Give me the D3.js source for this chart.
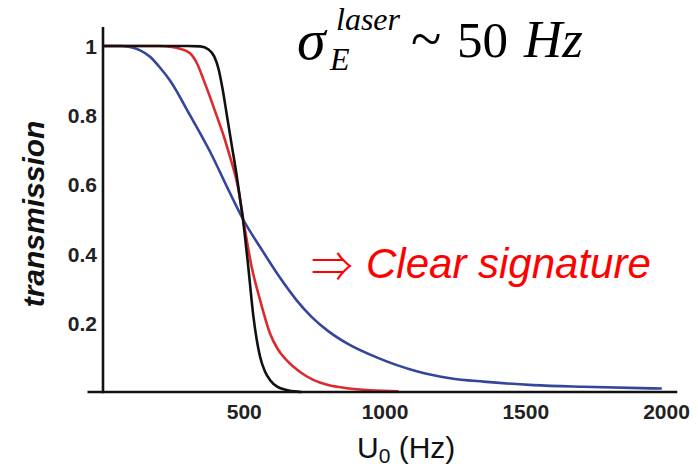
<!DOCTYPE html>
<html>
<head>
<meta charset="utf-8">
<script src="https://cdn.jsdelivr.net/npm/d3@7"></script>
<style>
  html, body { margin: 0; padding: 0; background: #fff; }
  svg { display: block; }
</style>
</head>
<body>
<svg id="chart" width="698" height="468"></svg>
<script>
// Transmission vs. U0 for three laser linewidths (steep, medium, broad)
const uValuesBlack = [0, 300, 345, 375, 395, 410, 425, 440, 457, 475, 490, 497, 505, 516, 534, 558, 575, 593, 620, 652, 690, 705];
const transBlack   = [1, 1, 0.999, 0.99, 0.97, 0.935, 0.875, 0.8, 0.715, 0.625, 0.54, 0.5, 0.445, 0.362, 0.22, 0.102, 0.06, 0.035, 0.015, 0.006, 0.001, 0];

const uValuesRed = [0, 200, 238, 270, 309, 335, 356, 380, 404, 430, 451, 481, 498, 528, 558, 593, 620, 652, 700, 747, 800, 866, 950, 1050];
const transRed   = [1, 1, 0.998, 0.993, 0.979, 0.948, 0.905, 0.853, 0.798, 0.737, 0.68, 0.586, 0.5, 0.362, 0.266, 0.17, 0.125, 0.092, 0.058, 0.035, 0.02, 0.011, 0.005, 0.002];

const uValuesBlue = [0, 60, 96, 130, 167, 200, 238, 309, 380, 451, 497, 569, 629, 688, 740, 800, 870, 972, 1114, 1233, 1351, 1529, 1706, 1985];
const transBlue   = [1, 1, 0.997, 0.988, 0.969, 0.94, 0.9, 0.8, 0.695, 0.575, 0.5, 0.405, 0.33, 0.265, 0.218, 0.176, 0.139, 0.1, 0.06, 0.04, 0.03, 0.02, 0.015, 0.01];

const xTicks = [500, 1000, 1500, 2000];
const yTicks = [0.2, 0.4, 0.6, 0.8, 1];
const yTickLabels = ["0.2", "0.4", "0.6", "0.8", "1"];

const xDomain = [0, 2000];
const yDomain = [0, 1];
const xAxisExtent = [-55, 2040];
const yAxisTop = 1.055;

const svg = d3.select("#chart");

const x = d3.scaleLinear().domain(xDomain).range([103, 666]);
const y = d3.scaleLinear().domain(yDomain).range([392, 46]);

const line = d3.line()
  .x(d => x(d[0]))
  .y(d => y(d[1]))
  .curve(d3.curveMonotoneX);

const series = [
  { u: uValuesBlue, t: transBlue, color: "#34469a" },
  { u: uValuesRed, t: transRed, color: "#dc2b2f" },
  { u: uValuesBlack, t: transBlack, color: "#111111" }
];

// curves
svg.append("g")
  .selectAll("path")
  .data(series)
  .join("path")
  .attr("fill", "none")
  .attr("stroke", d => d.color)
  .attr("stroke-width", 2.6)
  .attr("stroke-linejoin", "round")
  .attr("d", d => line(d.u.map((u, i) => [u, d.t[i]])));

// axis lines
svg.append("line")
  .attr("x1", x(xAxisExtent[0])).attr("x2", x(xAxisExtent[1]))
  .attr("y1", y(0)).attr("y2", y(0))
  .attr("stroke", "#111").attr("stroke-width", 2.6);
svg.append("line")
  .attr("x1", x(0)).attr("x2", x(0))
  .attr("y1", y(0) + 1.3).attr("y2", y(yAxisTop))
  .attr("stroke", "#111").attr("stroke-width", 2.6);

// tick labels
const xAxis = d3.axisBottom(x).tickValues(xTicks).tickSize(0).tickPadding(0).tickFormat(d3.format("d"));
const gx = svg.append("g").attr("transform", `translate(0,${y(0)})`).call(xAxis);
gx.select(".domain").remove();
gx.selectAll("text")
  .attr("y", 27).attr("dy", 0)
  .attr("fill", "#222")
  .style("font-family", "'Liberation Sans', Arial, sans-serif")
  .style("font-weight", "bold")
  .style("font-size", "21px");

const yAxis = d3.axisLeft(y).tickValues(yTicks).tickSize(0).tickPadding(6)
  .tickFormat((d, i) => yTickLabels[i]);
const gy = svg.append("g").attr("transform", `translate(${x(0)},0)`).call(yAxis);
gy.select(".domain").remove();
gy.selectAll("text")
  .attr("dy", "0.36em")
  .attr("fill", "#222")
  .style("font-family", "'Liberation Sans', Arial, sans-serif")
  .style("font-weight", "bold")
  .style("font-size", "21px");

// axis titles
svg.append("text")
  .attr("transform", "translate(44,214) rotate(-90)")
  .attr("text-anchor", "middle")
  .attr("fill", "#111")
  .style("font-family", "'Liberation Sans', Arial, sans-serif")
  .style("font-weight", "bold")
  .style("font-style", "italic")
  .style("font-size", "30px")
  .text("transmission");

const xt = svg.append("text")
  .attr("x", 357).attr("y", 458)
  .attr("fill", "#111")
  .style("font-family", "'Liberation Sans', Arial, sans-serif")
  .style("font-size", "30px");
xt.append("tspan").text("U");
xt.append("tspan").attr("dy", 5).style("font-size", "21px").text("0");
xt.append("tspan").attr("dy", -5).text(" (Hz)");

// linewidth annotation
const serif = "'Liberation Serif', 'Times New Roman', serif";
svg.append("text").attr("x", 297).attr("y", 59)
  .style("font-family", serif).style("font-style", "italic").style("font-size", "58px")
  .text("σ");
svg.append("text").attr("x", 336).attr("y", 30)
  .style("font-family", serif).style("font-style", "italic").style("font-size", "32px")
  .text("laser");
svg.append("text").attr("x", 330).attr("y", 70)
  .style("font-family", serif).style("font-style", "italic").style("font-size", "32px")
  .text("E");
svg.append("text").attr("x", 411).attr("y", 58)
  .style("font-family", serif).style("font-size", "56px")
  .text("~");
svg.append("text").attr("x", 457).attr("y", 57)
  .style("font-family", serif).style("font-size", "51px")
  .text("50");
svg.append("text").attr("x", 524).attr("y", 57)
  .style("font-family", serif).style("font-style", "italic").style("font-size", "53px")
  .text("Hz");

// conclusion
svg.append("text").attr("x", 311).attr("y", 282)
  .attr("fill", "#ff0000")
  .style("font-family", "'Noto Sans CJK JP', 'DejaVu Sans', sans-serif").style("font-weight", "300").style("font-size", "42px")
  .text("⇒");
svg.append("text").attr("x", 366).attr("y", 278)
  .attr("fill", "#ff0000")
  .style("font-family", "'Liberation Sans', Arial, sans-serif").style("font-style", "italic").style("font-size", "42px")
  .text("Clear signature");
</script>
</body>
</html>
